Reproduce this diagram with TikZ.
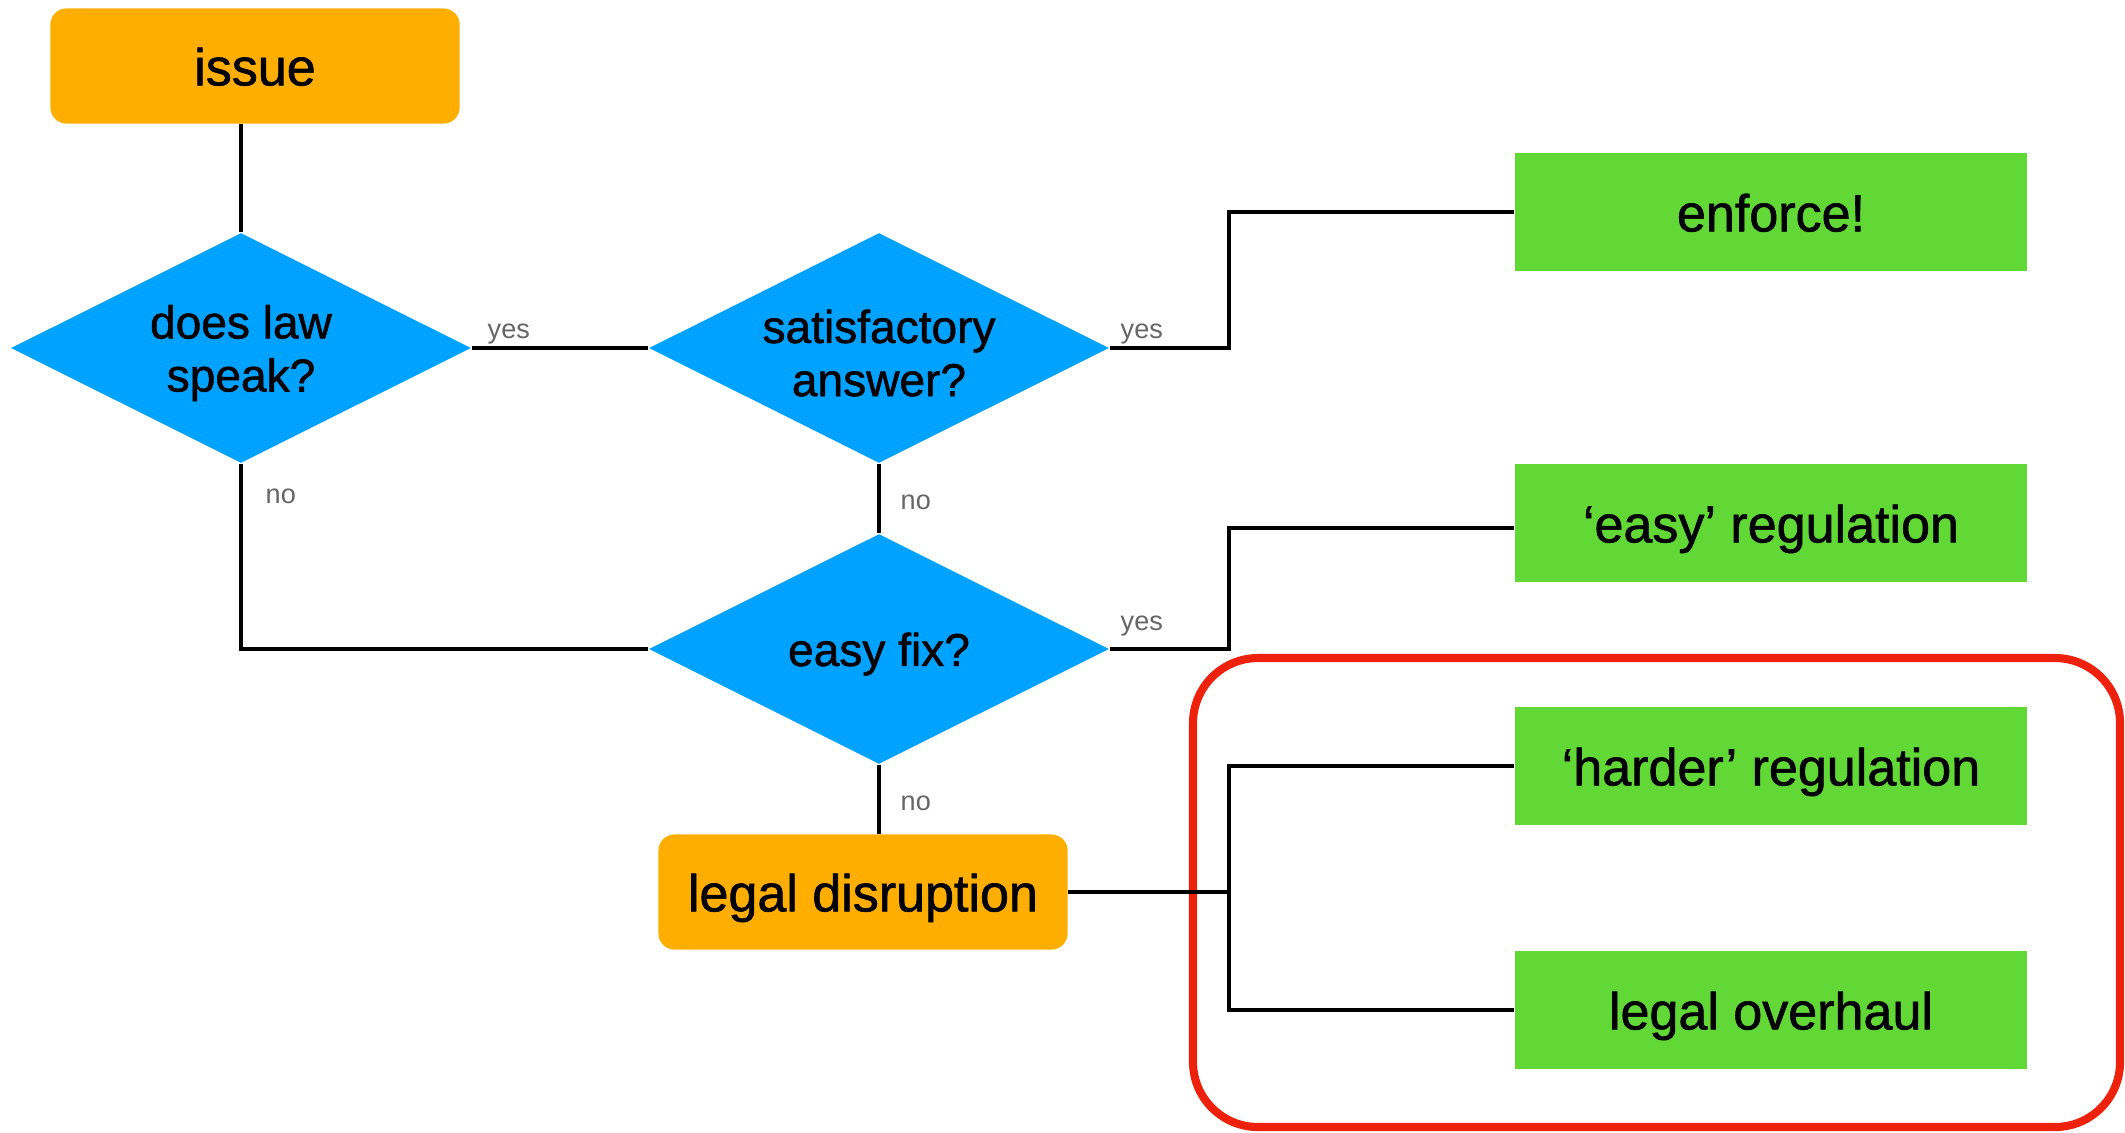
\documentclass[tikz,border=0pt]{standalone}
\usepackage{fontspec}
\setmainfont{Liberation Sans}
\newfontfamily\medfont{Liberation Sans}[FakeBold=1.2]
\usetikzlibrary{shapes.geometric}
\definecolor{korange}{HTML}{FEAE00}
\definecolor{kblue}{HTML}{00A2FF}
\definecolor{kgreen}{HTML}{61D836}
\definecolor{kred}{HTML}{EE220C}
\definecolor{kgray}{HTML}{666666}
\tikzset{
  orangebox/.style={fill=korange, rounded corners=0.16cm, minimum width=4.09cm, minimum height=1.15cm, inner sep=0pt, text height=11pt, text depth=0pt, font=\fontsize{14.8}{17}\selectfont\medfont},
  greenbox/.style={fill=kgreen, minimum width=5.12cm, minimum height=1.18cm, inner sep=0pt, text height=11pt, text depth=0pt, font=\fontsize{14.8}{17}\selectfont\medfont},
  decision/.style={fill=kblue, diamond, minimum width=4.60cm, minimum height=2.30cm, inner sep=0pt},
  dtext/.style={inner sep=0pt, align=center, yshift=-0.05cm, font=\fontsize{13.1}{15.1}\selectfont\medfont},
  conn/.style={line width=1.2pt, black},
  lbl/.style={text=kgray, inner sep=0pt, anchor=base west, font=\fontsize{7.7}{9}\selectfont},
}
\begin{document}
\begin{tikzpicture}[x=0.01cm,y=-0.01cm]
\useasboundingbox (0,0) rectangle (2125,1132);
% red highlight frame
\draw[kred, line width=2.3pt, rounded corners=0.65cm] (1193,658) rectangle (2120,1127);
% nodes
\node[orangebox] (issue) at (255,66) {issue};
\node[decision] (d1) at (241,348) {};
\node[dtext] (d1t) at (d1.center) {does law\\speak?};
\node[decision] (d2) at (879,348) {};
\node[dtext] (d2t) at (d2.center) {satisfactory\\answer?};
\node[decision] (d3) at (879,649) {};
\node[dtext] (d3t) at (d3.center) {easy fix?};
\node[orangebox] (ld) at (863,892) {legal disruption};
\node[greenbox] (enf) at (1771,212) {enforce!};
\node[greenbox] (ereg) at (1771,523) {‘easy’ regulation};
\node[greenbox] (hreg) at (1771,766) {‘harder’ regulation};
\node[greenbox] (lo) at (1771,1010) {legal overhaul};
\coordinate (jx) at (1229,0);
% connectors
\draw[conn] (issue.south -| d1.north) -- (d1.north);
\draw[conn] (d1.east) -- (d2.west);
\draw[conn] (d1.south) |- (d3.west);
\draw[conn] (d2.south) -- (d3.north);
\draw[conn] (d2.east) -- (d2.east -| jx) |- (enf.west);
\draw[conn] (d3.east) -- (d3.east -| jx) |- ([yshift=-0.05cm]ereg.west);
\draw[conn] (d3.south) -- (d3.south |- ld.north);
\draw[conn] (ld.east) -- (ld.east -| jx);
\draw[conn] (hreg.west) -- (hreg.west -| jx) -- (lo.west -| jx) -- (lo.west);
% labels
\node[lbl] (y1) at (487,338) {yes};
\node[lbl] (y2) at (1120,338) {yes};
\node[lbl] (y3) at (1120,630) {yes};
\node[lbl] (n1) at (265,503) {no};
\node[lbl] (n2) at (900,509) {no};
\node[lbl] (n3) at (900,810) {no};
\end{tikzpicture}
\end{document}
